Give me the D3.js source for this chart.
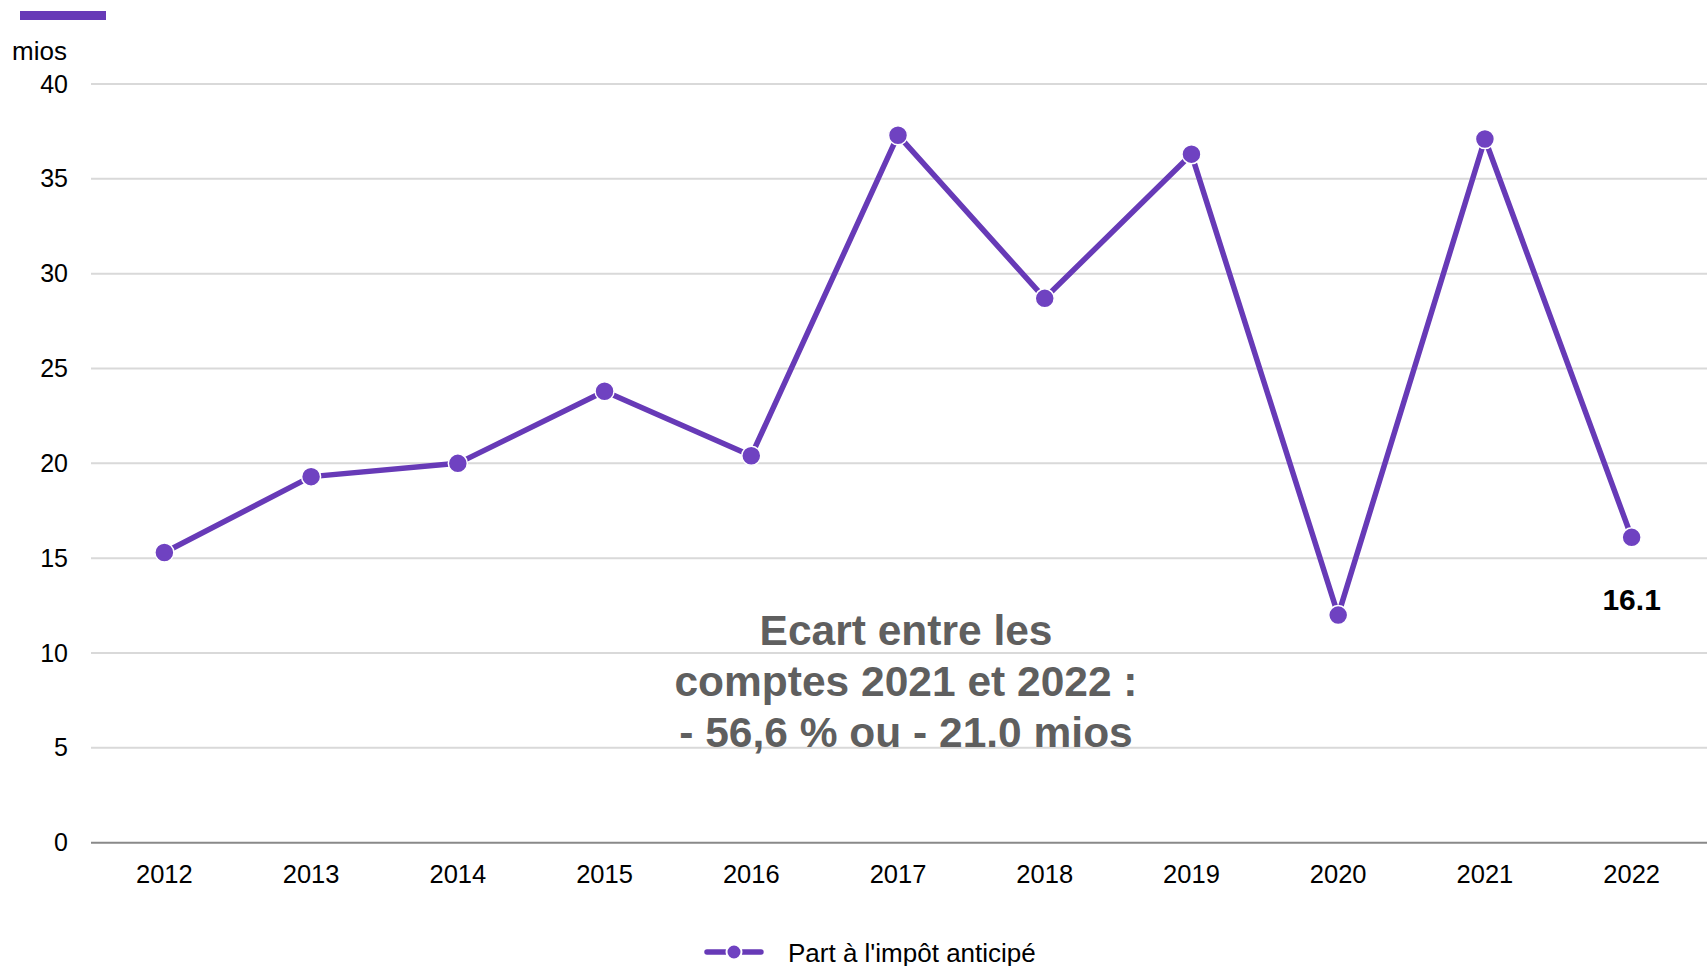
<!DOCTYPE html>
<html lang="fr">
<head>
<meta charset="UTF-8">
<title>Part à l'impôt anticipé</title>
<script src="https://d3js.org/d3.v7.min.js"></script>
<style>
    body { margin: 0; background: #fff; }
    text { font-family: "Liberation Sans", Arial, sans-serif; }
</style>
</head>
<body>
<div id="chart"></div>
<script>
    // data
    var years = ["2012", "2013", "2014", "2015", "2016", "2017", "2018", "2019", "2020", "2021", "2022"];
    var values = [15.3, 19.3, 20.0, 23.8, 20.4, 37.3, 28.7, 36.3, 12.0, 37.1, 16.1];
    var yTicks = [0, 5, 10, 15, 20, 25, 30, 35, 40];
    var seriesName = "Part à l'impôt anticipé";
    var unitLabel = "mios";
    var lastLabel = "16.1";
    var noteLines = ["Ecart entre les", "comptes 2021 et 2022 :", "- 56,6 % ou - 21.0 mios"];

    var width = 1707, height = 966;
    var lineColor = "#673ab7", dotColor = "#6f42c1";

    var svg = d3.select("#chart").append("svg")
        .attr("width", width)
        .attr("height", height);

    var x = d3.scaleBand().domain(years).range([91, 1705]);
    var y = d3.scaleLinear().domain([0, 40]).range([842.7, 84]);

    // little colour bar top left
    svg.append("rect")
        .attr("x", 20).attr("y", 11)
        .attr("width", 86).attr("height", 9)
        .attr("fill", lineColor);

    svg.append("text")
        .attr("x", 12).attr("y", 60)
        .attr("font-size", 26)
        .attr("fill", "#000")
        .text(unitLabel);

    // gridlines
    svg.selectAll(".grid")
        .data(yTicks.filter(function(d){ return d > 0; }))
        .enter().append("line")
        .attr("x1", 91).attr("x2", width)
        .attr("y1", function(d){ return y(d); })
        .attr("y2", function(d){ return y(d); })
        .attr("stroke", "#d9d9d9")
        .attr("stroke-width", 2);

    // y axis labels
    var yAxis = d3.axisLeft(y).tickValues(yTicks).tickSize(0).tickPadding(23);
    var gy = svg.append("g").attr("transform", "translate(91,0)").call(yAxis);
    gy.select(".domain").remove();
    gy.selectAll("text")
        .attr("font-size", 25)
        .attr("font-family", "'Liberation Sans', Arial, sans-serif")
        .attr("fill", "#000");

    // x axis
    var xAxis = d3.axisBottom(x).tickSize(0).tickPadding(22);
    var gx = svg.append("g").attr("transform", "translate(0," + y(0) + ")").call(xAxis);
    gx.select(".domain").attr("stroke", "#898989").attr("stroke-width", 2)
        .attr("d", "M91,0H" + width);
    gx.selectAll("text")
        .attr("font-size", 25.5)
        .attr("font-family", "'Liberation Sans', Arial, sans-serif")
        .attr("fill", "#000");

    var cx = function(d, i){ return x(years[i]) + x.bandwidth() / 2; };

    // series line
    var line = d3.line()
        .x(function(d, i){ return cx(d, i); })
        .y(function(d){ return y(d); });

    svg.append("path")
        .datum(values)
        .attr("d", line)
        .attr("fill", "none")
        .attr("stroke", lineColor)
        .attr("stroke-width", 5.5)
        .attr("stroke-linejoin", "round");

    svg.selectAll(".dot")
        .data(values)
        .enter().append("circle")
        .attr("cx", cx)
        .attr("cy", function(d){ return y(d); })
        .attr("r", 9.5)
        .attr("fill", dotColor)
        .attr("stroke", "#fff")
        .attr("stroke-width", 1.5);

    // label of last value
    var lastIdx = values.length - 1;
    svg.append("text")
        .attr("x", cx(values[lastIdx], lastIdx))
        .attr("y", y(values[lastIdx]) + 73)
        .attr("text-anchor", "middle")
        .attr("font-size", 30)
        .attr("font-weight", "bold")
        .attr("fill", "#000")
        .text(lastLabel);

    // note in the middle
    svg.selectAll(".note")
        .data(noteLines)
        .enter().append("text")
        .attr("x", 906)
        .attr("y", function(d, i){ return 645 + i * 51; })
        .attr("text-anchor", "middle")
        .attr("font-size", 42.5)
        .attr("font-weight", "bold")
        .attr("fill", "#5f5f5f")
        .text(function(d){ return d; });

    // legend
    var lg = svg.append("g");
    lg.append("line")
        .attr("x1", 707).attr("x2", 761)
        .attr("y1", 952).attr("y2", 952)
        .attr("stroke", lineColor)
        .attr("stroke-width", 5.5)
        .attr("stroke-linecap", "round");
    lg.append("circle")
        .attr("cx", 734).attr("cy", 952).attr("r", 7.5)
        .attr("fill", dotColor)
        .attr("stroke", "#fff")
        .attr("stroke-width", 2);
    lg.append("text")
        .attr("x", 788).attr("y", 961.5)
        .attr("font-size", 26)
        .attr("fill", "#000")
        .text(seriesName);
</script>
</body>
</html>
